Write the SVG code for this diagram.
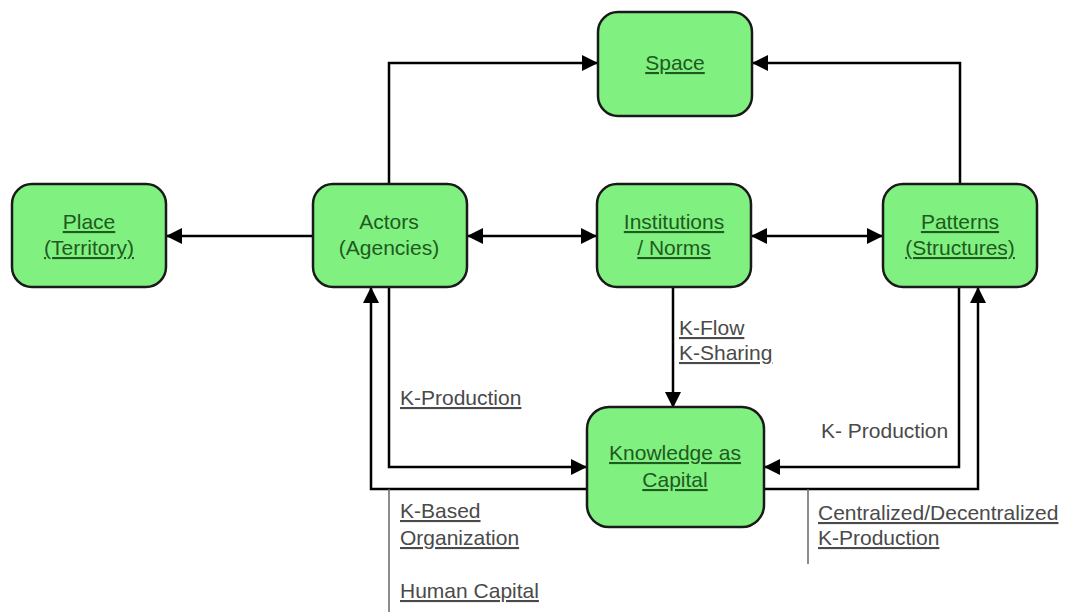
<svg xmlns="http://www.w3.org/2000/svg" width="1067" height="612" viewBox="0 0 1067 612">
  <defs>
    <marker id="arrow" viewBox="0 0 10 10" refX="10" refY="5" markerWidth="7" markerHeight="6.4" markerUnits="strokeWidth" orient="auto-start-reverse">
      <path d="M0,0 L10,5 L0,10 z" fill="#000"/>
    </marker>
    <style>
      .box { fill: #80f080; stroke: #1a1a1a; stroke-width: 2.5; }
      .ntext { font-family: "Liberation Sans", Arial, sans-serif; font-size: 21px; fill: #1f5a1f; text-anchor: middle; }
      .ul { text-decoration: underline; }
      .lbl { font-family: "Liberation Sans", Arial, sans-serif; font-size: 21px; fill: #4a4a4a; }
      .conn { fill: none; stroke: #000; stroke-width: 2.5; }
      .thin { fill: none; stroke: #666; stroke-width: 1.5; }
    </style>
  </defs>
  <rect width="1067" height="612" fill="#fff"/>

  <g id="connectors">
    <path class="conn" d="M389,185 V63 H598" marker-end="url(#arrow)"/>
    <path class="conn" d="M960,185 V63 H752" marker-end="url(#arrow)"/>
    <path class="conn" d="M313,236 H166" marker-end="url(#arrow)"/>
    <path class="conn" d="M467,236 H597" marker-start="url(#arrow)" marker-end="url(#arrow)"/>
    <path class="conn" d="M751,236 H883" marker-start="url(#arrow)" marker-end="url(#arrow)"/>
    <path class="conn" d="M673,287 V408" marker-end="url(#arrow)"/>
    <path class="conn" d="M389,287 V467 H587" marker-end="url(#arrow)"/>
    <path class="conn" d="M587,489 H371 V287" marker-end="url(#arrow)"/>
    <path class="conn" d="M959,287 V467 H764" marker-end="url(#arrow)"/>
    <path class="conn" d="M764,489 H978 V287" marker-end="url(#arrow)"/>
    <path class="thin" d="M389,489 V612"/>
    <path class="thin" d="M808,489 V564"/>
    <text class="lbl ul" x="679" y="335">K-Flow</text>
    <text class="lbl ul" x="679" y="360">K-Sharing</text>
    <text class="lbl ul" x="400" y="405">K-Production</text>
    <text class="lbl" x="821" y="438">K- Production</text>
    <text class="lbl ul" x="400" y="518">K-Based</text>
    <text class="lbl ul" x="400" y="545">Organization</text>
    <text class="lbl ul" x="400" y="598">Human Capital</text>
    <text class="lbl ul" x="818" y="520">Centralized/Decentralized</text>
    <text class="lbl ul" x="818" y="545">K-Production</text>
  </g>

  <g id="space">
    <rect class="box" x="598" y="12" width="154" height="104" rx="20"/>
    <text class="ntext ul" x="675" y="70">Space</text>
  </g>
  <g id="place">
    <rect class="box" x="12" y="184" width="154" height="103" rx="20"/>
    <text class="ntext ul" x="89" y="229">Place</text>
    <text class="ntext ul" x="89" y="255">(Territory)</text>
  </g>
  <g id="actors">
    <rect class="box" x="313" y="184" width="154" height="103" rx="20"/>
    <text class="ntext" x="389" y="229">Actors</text>
    <text class="ntext" x="389" y="255">(Agencies)</text>
  </g>
  <g id="institutions">
    <rect class="box" x="597" y="184" width="154" height="103" rx="20"/>
    <text class="ntext ul" x="674" y="229">Institutions</text>
    <text class="ntext ul" x="674" y="255">/ Norms</text>
  </g>
  <g id="patterns">
    <rect class="box" x="883" y="184" width="154" height="103" rx="20"/>
    <text class="ntext ul" x="960" y="229">Patterns</text>
    <text class="ntext ul" x="960" y="255">(Structures)</text>
  </g>
  <g id="knowledge">
    <rect class="box" x="587" y="407" width="177" height="120" rx="22"/>
    <text class="ntext ul" x="675" y="460">Knowledge as</text>
    <text class="ntext ul" x="675" y="487">Capital</text>
  </g>
</svg>
